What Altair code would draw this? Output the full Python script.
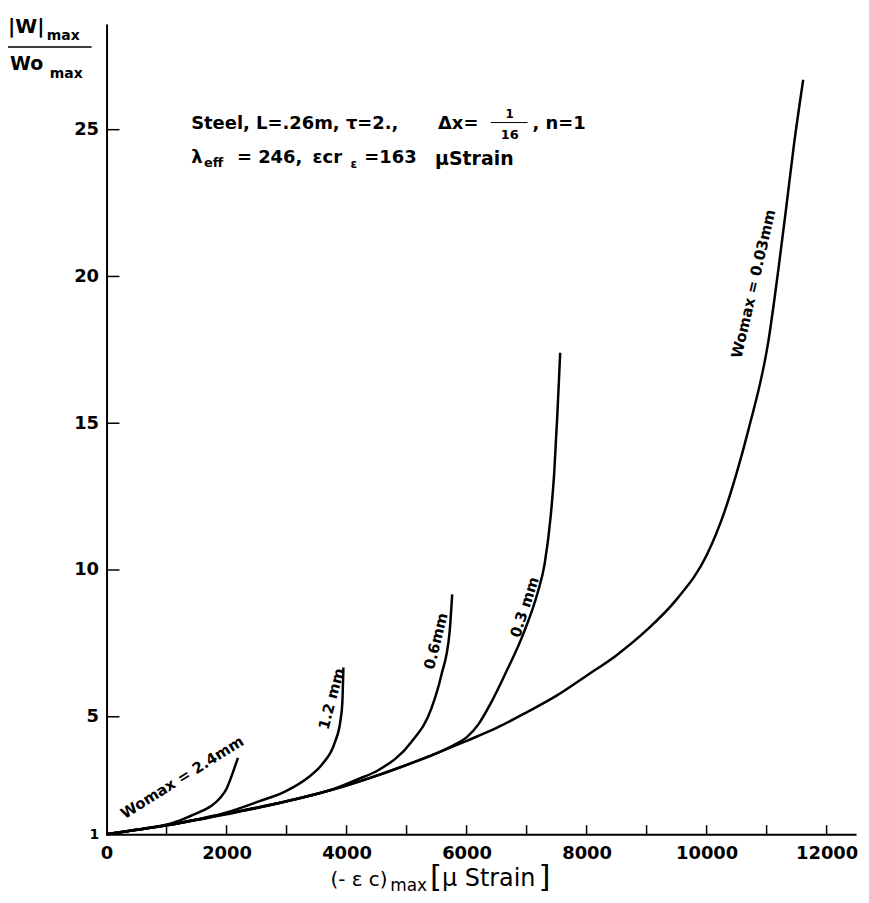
import altair as alt
import pandas as pd

# ---- data ----
base_x = [0, 500, 1000, 1500, 2000, 2600, 3000, 3700, 4300, 4900, 5400, 6000, 6500, 7000,
          7500, 8000, 8500, 9000, 9500, 10000, 10300, 10500, 10700, 11030, 11200,
          11330, 11450, 11610]
base_y = [1.0, 1.15, 1.3, 1.48, 1.68, 1.93, 2.12, 2.48, 2.85, 3.28, 3.68, 4.18, 4.62, 5.15,
          5.72, 6.4, 7.1, 7.95, 9.0, 10.5, 12.0, 13.3, 14.8, 17.8, 20.3,
          22.4, 24.4, 26.7]

c24_x = [0, 500, 1000, 1200, 1400, 1600, 1750, 1900, 2000, 2070, 2130, 2190]
c24_y = [1.0, 1.15, 1.32, 1.45, 1.62, 1.8, 1.97, 2.25, 2.55, 2.9, 3.25, 3.6]

c12_x = [0, 1000, 2000, 2540, 2980, 3370, 3600, 3800, 3900, 3930, 3947]
c12_y = [1.0, 1.32, 1.74, 2.12, 2.46, 2.95, 3.4, 4.1, 4.9, 5.5, 6.68]

c06_x = [0, 1000, 2000, 3000, 3800, 4200, 4527, 5080, 5411, 5577, 5716, 5760]
c06_y = [1.0, 1.3, 1.7, 2.12, 2.55, 2.88, 3.18, 4.14, 5.27, 6.4, 7.87, 9.17]

c03_x = [0, 1000, 2000, 3000, 4000, 5000, 5500, 5800, 6000, 6200, 6400, 6630, 6960,
         7180, 7300, 7400, 7460, 7510, 7540, 7560]
c03_y = [1.0, 1.3, 1.7, 2.12, 2.66, 3.36, 3.75, 4.05, 4.3, 4.75, 5.45, 6.4, 7.9,
         9.2, 10.2, 11.8, 13.3, 15.2, 16.5, 17.4]

x_tick_values = [1000, 2000, 3000, 4000, 5000, 6000, 7000, 8000, 9000, 10000, 11000, 12000]
x_label_values = [0, 2000, 4000, 6000, 8000, 10000, 12000]
y_tick_values = [5, 10, 15, 20, 25]
y_label_values = [1, 5, 10, 15, 20, 25]

series = [("0.03", base_x, base_y), ("2.4", c24_x, c24_y), ("1.2", c12_x, c12_y),
          ("0.6", c06_x, c06_y), ("0.3", c03_x, c03_y)]
rows = []
for name, xs_, ys_ in series:
    for i, (a, b) in enumerate(zip(xs_, ys_)):
        rows.append({"s": name, "x": a, "y": b, "o": i})
df = pd.DataFrame(rows)

W, H = 753, 814
FONT = "DejaVu Sans"

xs = alt.Scale(domain=[0, 12490], nice=False, zero=False)
ys = alt.Scale(domain=[1, 28.6], nice=False, zero=False)

x_axis = alt.Axis(values=x_label_values, ticks=False, grid=False, title=None,
                  labelFontSize=18, labelFont=FONT, labelFontWeight="bold",
                  labelColor="black", domainColor="black", domainWidth=2,
                  labelPadding=10, labelFlush=False, labelOverlap=False, format="d")
y_axis = alt.Axis(values=y_label_values, ticks=False, grid=False, title=None,
                  labelFontSize={"condition": {"test": "datum.value == 1", "value": 14}, "value": 18},
                  labelFont=FONT, labelFontWeight="bold",
                  labelColor="black", domainColor="black", domainWidth=2,
                  labelPadding=8, labelFlush=False, labelOverlap=False)

lines = alt.Chart(df).mark_line(color="black", strokeWidth=2.5, interpolate="monotone").encode(
    x=alt.X("x:Q", scale=xs, axis=x_axis),
    y=alt.Y("y:Q", scale=ys, axis=y_axis),
    detail="s:N",
    order="o:Q",
)

xt = alt.Chart(pd.DataFrame({"v": x_tick_values})).mark_rule(color="black", strokeWidth=1.5).encode(
    x=alt.X("v:Q", scale=xs), y=alt.value(H), y2=alt.value(H - 9))
yt = alt.Chart(pd.DataFrame({"v": y_tick_values})).mark_rule(color="black", strokeWidth=1.5).encode(
    y=alt.Y("v:Q", scale=ys), x=alt.value(0), x2=alt.value(13))


def txt(s, x, y, size=18, align="left", angle=0, baseline="alphabetic", weight="bold"):
    return alt.Chart(pd.DataFrame({"t": [s]})).mark_text(
        text=s, font=FONT, fontSize=size, fontWeight=weight, color="black",
        align=align, baseline=baseline, angle=angle
    ).encode(x=alt.value(x), y=alt.value(y))


def hline(x1, x2, y, w=1.5):
    return alt.Chart(pd.DataFrame({"t": [0]})).mark_rule(color="black", strokeWidth=w).encode(
        x=alt.value(x1), x2=alt.value(x2), y=alt.value(y))


# page -> plot coords: (px-107, py-22)
def P(px, py):
    return px - 107, py - 22


texts = []
# y title fraction
texts.append(txt("|W|", *P(8, 31), size=20))
texts.append(txt("max", *P(47, 38), size=14))
texts.append(hline(P(8, 0)[0], P(92, 0)[0], P(0, 45)[1]))
texts.append(txt("Wo", *P(10, 68), size=19))
texts.append(txt("max", *P(50, 76), size=14))

# x title
texts.append(txt("(- ε c)", *P(332, 888), size=20, weight="normal"))
texts.append(txt("max", *P(392, 893), size=17, weight="normal"))
texts.append(txt("[", *P(432, 889), size=31, weight="normal"))
texts.append(txt("μ Strain", *P(444, 888), size=24, weight="normal"))
texts.append(txt("]", *P(541, 889), size=31, weight="normal"))

# annotation line 1
texts.append(txt("Steel, L=.26m, τ=2.,", *P(192, 127), size=18))
texts.append(txt("Δx=", *P(440, 127), size=18))
texts.append(txt("1", *P(512, 116), size=12, align="center"))
texts.append(hline(P(493, 0)[0], P(530, 0)[0], P(0, 121)[1], w=1))
texts.append(txt("16", *P(512, 138), size=13, align="center"))
texts.append(txt(", n=1", *P(535, 127), size=18))
# annotation line 2
texts.append(txt("λ", *P(192, 162), size=18))
texts.append(txt("eff", *P(205, 166), size=13))
texts.append(txt("= 246,", *P(238, 162), size=18))
texts.append(txt("εcr", *P(314, 162), size=18))
texts.append(txt("ε", *P(352, 167), size=12))
texts.append(txt("=163", *P(366, 162), size=18))
texts.append(txt("μStrain", *P(437, 164), size=19))

# curve labels
texts.append(txt("Womax = 2.4mm", *P(183, 779), size=15, align="center", angle=328, baseline="middle"))
texts.append(txt("1.2 mm", *P(333, 700), size=15, align="center", angle=285, baseline="middle"))
texts.append(txt("0.6mm", *P(438, 642), size=15, align="center", angle=284, baseline="middle"))
texts.append(txt("0.3 mm", *P(527, 608), size=15, align="center", angle=288, baseline="middle"))
texts.append(txt("Womax = 0.03mm", *P(757, 283), size=15, align="center", angle=283, baseline="middle"))

chart = alt.layer(lines, xt, yt, *texts).properties(
    width=W, height=H,
    autosize="none",
    padding={"left": 99, "top": 14, "right": 5, "bottom": 58},
).configure_view(stroke=None)

chart.save("out.html", embed_options={"renderer": "svg", "actions": False})
